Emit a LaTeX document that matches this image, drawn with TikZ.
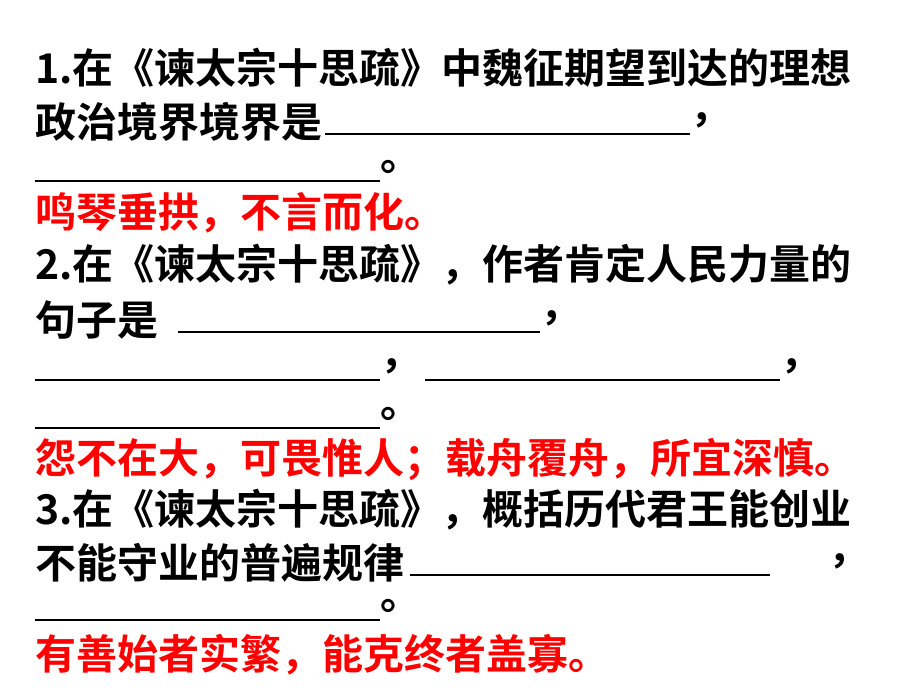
\documentclass[tikz,border=0pt]{standalone}
\usepackage{fontspec}
\setmainfont{Noto Sans CJK SC}[BoldFont={* Bold}]
\usetikzlibrary{positioning}
\tikzset{line/.style={anchor=west, inner sep=0pt, font=\fontsize{41}{43}\selectfont\bfseries},
  answer/.style={line, text=red},
  blank/.style={line width=1.2pt}}
\begin{document}
\begin{tikzpicture}[x=1pt,y=-1pt]
\useasboundingbox (0,0) rectangle (920,690);
\node[line] (q1a) at (35,68) {1.在《谏太宗十思疏》中魏征期望到达的理想};
\node[line] (q1b) at (35,122) {政治境界境界是};
\draw[blank] (325,134) -- (690,134);
\node[line] (c1) at (690,120) {，};
\draw[blank] (35,181) -- (380,181);
\node[line] (p1) at (380,167) {。};
\node[answer] (a1) at (35,213) {鸣琴垂拱，不言而化。};
\node[line] (q2a) at (35,265) {2.在《谏太宗十思疏》，作者肯定人民力量的};
\node[line] (q2b) at (35,320) {句子是};
\draw[blank] (178,332) -- (540,332);
\node[line] (c2) at (540,318) {，};
\draw[blank] (35,380) -- (380,380);
\node[line] (c3) at (380,366) {，};
\draw[blank] (425,380) -- (780,380);
\node[line] (c4) at (780,366) {，};
\draw[blank] (35,428) -- (380,428);
\node[line] (p2) at (380,414) {。};
\node[answer] (a2) at (35,460) {怨不在大，可畏惟人；载舟覆舟，所宜深慎。};
\node[line] (q3a) at (35,510) {3.在《谏太宗十思疏》，概括历代君王能创业};
\node[line] (q3b) at (35,563) {不能守业的普遍规律};
\draw[blank] (410,575) -- (770,575);
\node[line] (c5) at (828,561) {，};
\draw[blank] (35,620) -- (380,620);
\node[line] (p3) at (380,606) {。};
\node[answer] (a3) at (35,655) {有善始者实繁，能克终者盖寡。};
\end{tikzpicture}
\end{document}
